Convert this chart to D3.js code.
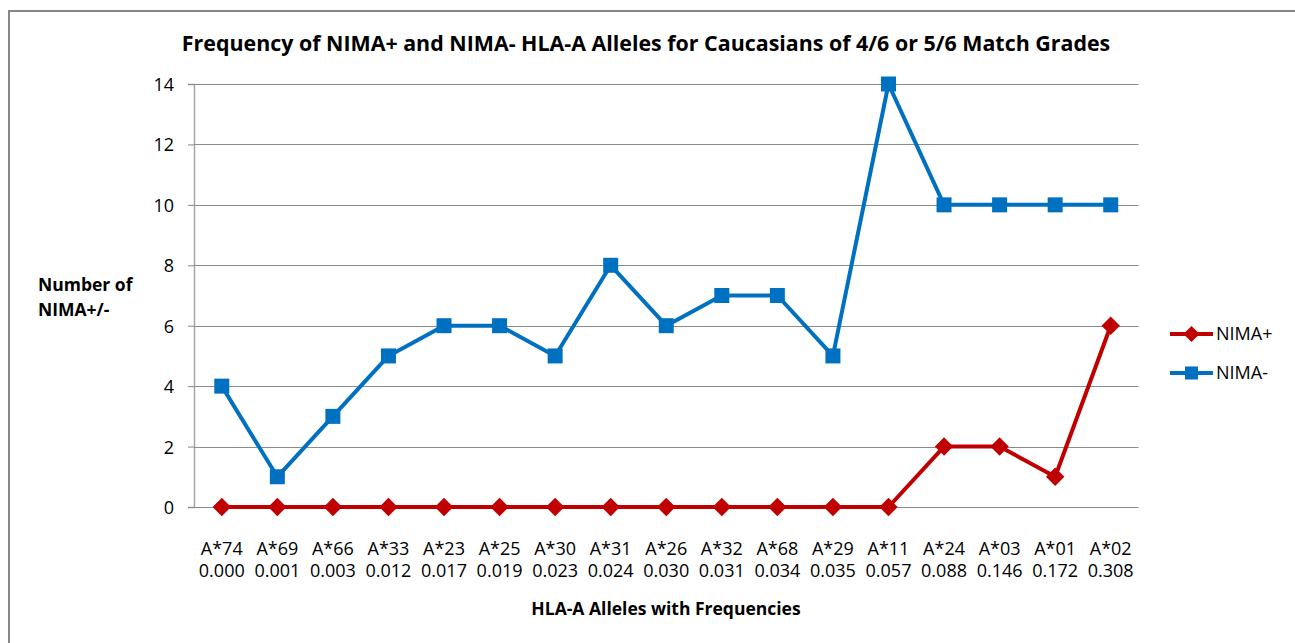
<!DOCTYPE html>
<html>
<head>
	<title>NIMA HLA-A chart</title>
	<style>
	body { margin: 0; background: #fff; }
	svg text { font-family: "Open Sans", sans-serif; fill: #000; }
	.tick text { font-size: 18px; }
	.title { font-size: 21.4px; font-weight: bold; }
	.axtitle { font-size: 17.5px; font-weight: bold; }
	.legend text { font-size: 18px; }
	</style>
	<script src="https://d3js.org/d3.v7.min.js"></script>
</head>
<body>
	<svg class="chart"></svg>
	<script>
		var alleles = ["A*74", "A*69", "A*66", "A*33", "A*23", "A*25", "A*30", "A*31", "A*26", "A*32", "A*68", "A*29", "A*11", "A*24", "A*03", "A*01", "A*02"];
		var freqs = ["0.000", "0.001", "0.003", "0.012", "0.017", "0.019", "0.023", "0.024", "0.030", "0.031", "0.034", "0.035", "0.057", "0.088", "0.146", "0.172", "0.308"];
		var nimaPlus = [0, 0, 0, 0, 0, 0, 0, 0, 0, 0, 0, 0, 0, 2, 2, 1, 6];
		var nimaMinus = [4, 1, 3, 5, 6, 6, 5, 8, 6, 7, 7, 5, 14, 10, 10, 10, 10];
		var yTicks = [0, 2, 4, 6, 8, 10, 12, 14];

		var W = 1295, H = 643;
		var margin = {top: 84, left: 194, right: 1295 - 1138.5, bottom: 643 - 507};
		var width = W - margin.left - margin.right
		, height = H - margin.top - margin.bottom;

		var svg = d3.select(".chart").attr("width", W).attr("height", H);

		// outer frame
		svg.append("rect")
			.attr("x", 9).attr("y", 11)
			.attr("width", W + 10).attr("height", H + 10)
			.attr("fill", "none").attr("stroke", "#868686").attr("stroke-width", 2);

		var x = d3.scaleBand().domain(d3.range(alleles.length)).range([0, width]);
		var y = d3.scaleLinear().domain([0, 14]).range([height, 0]);

		var main = svg.append("g")
			.attr("transform", "translate(" + margin.left + "," + margin.top + ")");

		// y axis
		var yAxis = d3.axisLeft(y).tickValues(yTicks).tickSize(6).tickPadding(14);
		var yg = main.append("g").call(yAxis);
		yg.select(".domain").attr("stroke", "#a6a6a6").attr("stroke-width", 1.5);
		yg.selectAll(".tick line").attr("stroke", "#868686");
		yg.selectAll(".tick text").attr("dy", "0.36em").style("font-size", "18px");

		// gridlines
		main.append("g").selectAll("line")
			.data(yTicks).enter().append("line")
			.attr("x1", 0).attr("x2", width)
			.attr("y1", function (d) { return Math.round(y(d)) + 0.5; })
			.attr("y2", function (d) { return Math.round(y(d)) + 0.5; })
			.attr("stroke", "#8c8c8c").attr("stroke-width", 1.2);

		// x labels (two lines)
		var xl = main.append("g").attr("transform", "translate(0," + height + ")");
		var lab = xl.selectAll("text").data(alleles).enter().append("text")
			.attr("text-anchor", "middle")
			.style("font-size", "18px");
		lab.append("tspan").attr("y", 48).text(function (d) { return d; })
			.attr("x", function (d, i) { return x(i) + x.bandwidth() / 2; });
		lab.append("tspan").attr("y", 70).text(function (d, i) { return freqs[i]; })
			.attr("x", function (d, i) { return x(i) + x.bandwidth() / 2; });

		var line = d3.line()
			.x(function (d, i) { return x(i) + x.bandwidth() / 2; })
			.y(function (d) { return y(d); });

		function drawSeries(vals, color, diamond, size) {
			main.append("path").datum(vals)
				.attr("d", line).attr("fill", "none")
				.attr("stroke", color).attr("stroke-width", 4)
				.attr("stroke-linejoin", "round");
			main.append("g").selectAll("path").data(vals).enter().append("path")
				.attr("d", d3.symbol().type(d3.symbolSquare).size(size))
				.attr("transform", function (d, i) {
					var t = "translate(" + (x(i) + x.bandwidth() / 2) + "," + y(d) + ")";
					return diamond ? t + " rotate(45)" : t;
				})
				.attr("fill", color);
		}
		drawSeries(nimaMinus, "#0070c0", false, 225);
		drawSeries(nimaPlus, "#c00000", true, 170);

		// titles
		svg.append("text").attr("class", "title")
			.attr("x", 646).attr("y", 51).attr("text-anchor", "middle")
			.text("Frequency of NIMA+ and NIMA- HLA-A Alleles for Caucasians of 4/6 or 5/6 Match Grades");
		svg.append("text").attr("class", "axtitle")
			.attr("x", 666).attr("y", 615).attr("text-anchor", "middle")
			.text("HLA-A Alleles with Frequencies");
		var yt = svg.append("text").attr("class", "axtitle");
		yt.append("tspan").attr("x", 38).attr("y", 291).text("Number of");
		yt.append("tspan").attr("x", 38).attr("y", 316).text("NIMA+/-");

		// legend
		var legend = svg.append("g").attr("class", "legend");
		var items = [
			{name: "NIMA+", color: "#c00000", y: 334, diamond: true},
			{name: "NIMA-", color: "#0070c0", y: 373, diamond: false}
		];
		items.forEach(function (it) {
			legend.append("line").attr("x1", 1170).attr("x2", 1213)
				.attr("y1", it.y).attr("y2", it.y)
				.attr("stroke", it.color).attr("stroke-width", 4);
			legend.append("path")
				.attr("d", d3.symbol().type(d3.symbolSquare).size(it.diamond ? 130 : 170))
				.attr("transform", "translate(1191.5," + it.y + ")" + (it.diamond ? " rotate(45)" : ""))
				.attr("fill", it.color);
			legend.append("text").attr("x", 1216).attr("y", it.y).attr("dy", "0.36em")
				.text(it.name);
		});
	</script>
</body>
</html>
